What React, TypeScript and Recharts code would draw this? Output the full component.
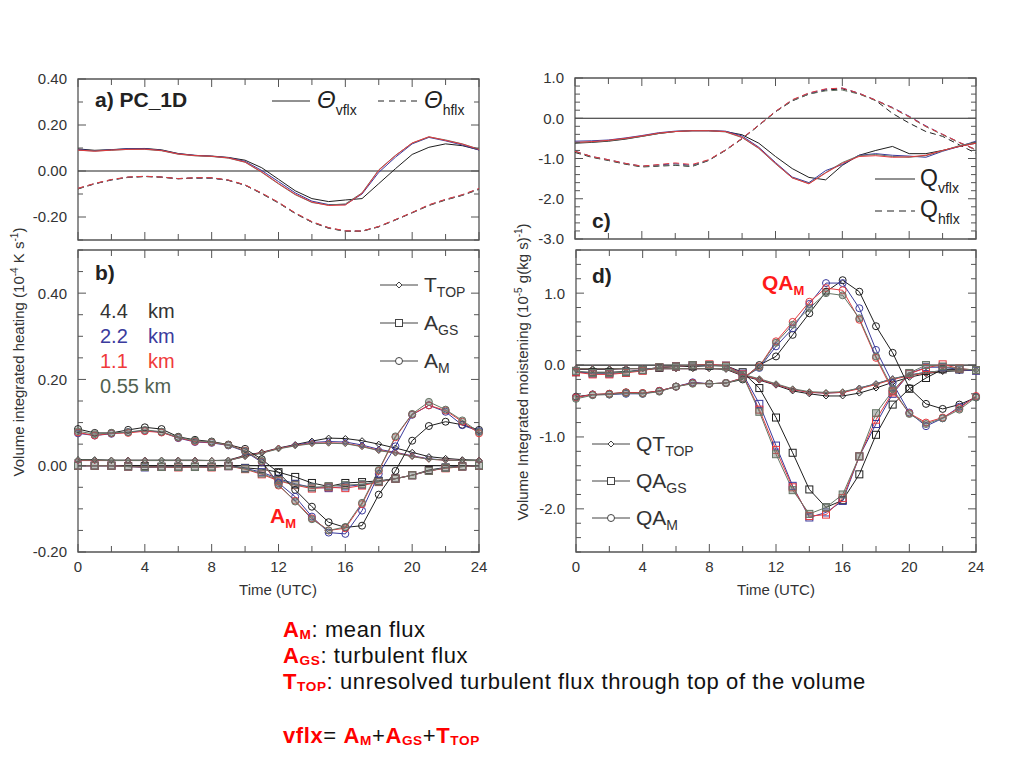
import React from 'react';
import { LineChart, Line, XAxis, YAxis, ReferenceLine, ReferenceArea } from 'recharts';

const HOURS = [0,1,2,3,4,5,6,7,8,9,10,11,12,13,14,15,16,17,18,19,20,21,22,23,24];
const X_TICKS = [0,2,4,6,8,10,12,14,16,18,20,22,24];
const X_LABELS = [0,4,8,12,16,20,24];

const A_Y_TICKS = [-0.3,-0.2,-0.1,0,0.1,0.2,0.3,0.4];
const A_Y_LABELS = [-0.2,0,0.2,0.4];
const B_Y_TICKS = [-0.2,-0.15,-0.1,-0.05,0,0.05,0.1,0.15,0.2,0.25,0.3,0.35,0.4,0.45,0.5];
const B_Y_LABELS = [-0.2,0,0.2,0.4];
const C_Y_TICKS = [-3,-2.8,-2.6,-2.4,-2.2,-2,-1.8,-1.6,-1.4,-1.2,-1,-0.8,-0.6,-0.4,-0.2,0,0.2,0.4,0.6,0.8,1];
const C_Y_LABELS = [-3,-2,-1,0,1];
const D_Y_TICKS = [-2.6,-2.4,-2.2,-2,-1.8,-1.6,-1.4,-1.2,-1,-0.8,-0.6,-0.4,-0.2,0,0.2,0.4,0.6,0.8,1,1.2,1.4,1.6];
const D_Y_LABELS = [-2,-1,0,1];

// Panel a: Theta vflx (solid) and hflx (dashed)
const A_VF_BLACK = [0.096,0.090,0.093,0.097,0.098,0.092,0.076,0.068,0.065,0.059,0.047,0.014,-0.036,-0.086,-0.120,-0.133,-0.126,-0.120,-0.055,0.010,0.072,0.103,0.118,0.110,0.092];
const A_VF_BLUE = [0.093,0.088,0.092,0.097,0.097,0.090,0.075,0.068,0.064,0.058,0.042,0.002,-0.046,-0.095,-0.131,-0.146,-0.146,-0.100,-0.006,0.060,0.118,0.146,0.131,0.113,0.091];
const A_VF_RED = [0.091,0.086,0.091,0.094,0.095,0.089,0.074,0.067,0.064,0.057,0.039,-0.004,-0.054,-0.101,-0.135,-0.150,-0.148,-0.097,0.003,0.067,0.122,0.149,0.133,0.117,0.094];
const A_VF_GRAY = [0.090,0.087,0.090,0.094,0.094,0.088,0.073,0.066,0.063,0.056,0.038,-0.006,-0.056,-0.103,-0.137,-0.148,-0.143,-0.095,0.005,0.068,0.121,0.148,0.135,0.118,0.095];
const A_HF_BLACK = [-0.078,-0.056,-0.039,-0.028,-0.024,-0.027,-0.034,-0.031,-0.031,-0.041,-0.062,-0.099,-0.139,-0.185,-0.223,-0.249,-0.262,-0.262,-0.243,-0.213,-0.182,-0.150,-0.126,-0.106,-0.080];
const A_HF_BLUE = [-0.076,-0.055,-0.038,-0.027,-0.023,-0.026,-0.033,-0.030,-0.030,-0.040,-0.061,-0.097,-0.137,-0.183,-0.221,-0.247,-0.261,-0.261,-0.242,-0.212,-0.181,-0.148,-0.124,-0.104,-0.077];
const A_HF_RED = [-0.075,-0.054,-0.037,-0.026,-0.023,-0.026,-0.033,-0.029,-0.029,-0.039,-0.060,-0.096,-0.136,-0.182,-0.220,-0.246,-0.260,-0.261,-0.241,-0.211,-0.180,-0.147,-0.123,-0.103,-0.076];
const A_HF_GRAY = [-0.077,-0.055,-0.038,-0.027,-0.024,-0.027,-0.033,-0.030,-0.030,-0.040,-0.061,-0.098,-0.138,-0.184,-0.222,-0.248,-0.262,-0.262,-0.242,-0.212,-0.181,-0.149,-0.125,-0.105,-0.078];

// Panel b: A_M (circles), T_TOP (diamonds), A_GS (squares)
const B_AM_BLACK = [0.085,0.076,0.076,0.083,0.089,0.085,0.067,0.060,0.056,0.049,0.039,0.015,-0.016,-0.056,-0.095,-0.131,-0.143,-0.139,-0.067,-0.012,0.058,0.092,0.102,0.095,0.083];
const B_AM_BLUE = [0.075,0.070,0.074,0.078,0.081,0.078,0.064,0.055,0.053,0.047,0.033,0.008,-0.040,-0.072,-0.118,-0.155,-0.158,-0.104,-0.019,0.045,0.118,0.140,0.125,0.094,0.080];
const B_AM_RED = [0.077,0.070,0.075,0.076,0.080,0.077,0.065,0.056,0.054,0.048,0.035,0.010,-0.046,-0.081,-0.122,-0.150,-0.145,-0.089,-0.012,0.066,0.119,0.140,0.128,0.102,0.075];
const B_AM_GRAY = [0.080,0.073,0.076,0.078,0.083,0.079,0.066,0.058,0.055,0.048,0.034,0.011,-0.044,-0.083,-0.124,-0.150,-0.142,-0.086,-0.010,0.068,0.120,0.148,0.130,0.105,0.078];
const B_TT_BLACK = [0.014,0.014,0.013,0.013,0.013,0.013,0.013,0.013,0.012,0.013,0.024,0.031,0.041,0.049,0.057,0.064,0.063,0.058,0.050,0.041,0.031,0.021,0.017,0.014,0.013];
const B_TT_BLUE = [0.012,0.012,0.012,0.012,0.012,0.012,0.012,0.012,0.012,0.012,0.022,0.030,0.040,0.048,0.054,0.056,0.055,0.048,0.038,0.031,0.023,0.016,0.013,0.012,0.012];
const B_TT_RED = [0.012,0.012,0.012,0.012,0.012,0.012,0.012,0.012,0.012,0.012,0.022,0.030,0.040,0.047,0.052,0.053,0.052,0.045,0.036,0.030,0.022,0.015,0.013,0.012,0.012];
const B_TT_GRAY = [0.013,0.013,0.012,0.012,0.012,0.012,0.012,0.012,0.012,0.012,0.021,0.029,0.039,0.046,0.051,0.052,0.051,0.044,0.035,0.029,0.021,0.015,0.013,0.012,0.012];
const B_AG_BLACK = [0.000,0.000,0.000,-0.001,-0.001,-0.002,-0.002,-0.002,-0.002,0.000,-0.005,-0.008,-0.015,-0.026,-0.040,-0.048,-0.040,-0.038,-0.035,-0.030,-0.022,-0.010,-0.004,-0.001,0.000];
const B_AG_BLUE = [0.000,0.000,0.000,-0.002,-0.004,-0.003,-0.003,-0.003,-0.003,-0.001,-0.006,-0.015,-0.030,-0.042,-0.050,-0.052,-0.048,-0.044,-0.037,-0.030,-0.022,-0.012,-0.005,-0.002,0.000];
const B_AG_RED = [0.000,0.000,0.000,-0.002,-0.003,-0.003,-0.004,-0.003,-0.004,-0.001,-0.008,-0.020,-0.035,-0.045,-0.053,-0.050,-0.052,-0.046,-0.038,-0.030,-0.022,-0.012,-0.006,-0.002,0.000];
const B_AG_GRAY = [0.000,0.000,0.000,-0.002,-0.003,-0.003,-0.003,-0.003,-0.003,-0.001,-0.007,-0.018,-0.033,-0.044,-0.050,-0.048,-0.045,-0.043,-0.037,-0.030,-0.022,-0.012,-0.005,-0.002,0.000];

// Panel c: Q vflx (solid) and hflx (dashed)
const C_VF_BLACK = [-0.62,-0.60,-0.57,-0.52,-0.45,-0.38,-0.33,-0.31,-0.31,-0.33,-0.41,-0.62,-0.95,-1.25,-1.47,-1.53,-1.17,-0.92,-0.80,-0.70,-0.88,-0.88,-0.80,-0.70,-0.62];
const C_VF_BLUE = [-0.57,-0.56,-0.54,-0.49,-0.43,-0.36,-0.32,-0.31,-0.31,-0.32,-0.44,-0.72,-1.10,-1.46,-1.60,-1.30,-1.15,-0.92,-0.88,-0.92,-0.94,-0.97,-0.82,-0.70,-0.57];
const C_VF_RED = [-0.60,-0.58,-0.55,-0.50,-0.44,-0.37,-0.33,-0.31,-0.31,-0.33,-0.47,-0.74,-1.12,-1.48,-1.63,-1.36,-1.12,-0.95,-0.93,-0.97,-0.96,-0.92,-0.80,-0.70,-0.62];
const C_VF_GRAY = [-0.61,-0.59,-0.56,-0.51,-0.45,-0.38,-0.33,-0.31,-0.31,-0.34,-0.48,-0.75,-1.13,-1.48,-1.62,-1.35,-1.10,-0.93,-0.90,-0.95,-0.97,-0.93,-0.81,-0.68,-0.60];
const C_HF_BLACK = [-0.85,-0.97,-1.05,-1.14,-1.21,-1.19,-1.17,-1.20,-1.05,-0.80,-0.51,-0.18,0.16,0.43,0.60,0.70,0.73,0.61,0.44,0.12,-0.12,-0.33,-0.45,-0.66,-0.87];
const C_HF_BLUE = [-0.82,-0.95,-1.03,-1.12,-1.19,-1.16,-1.13,-1.17,-1.04,-0.79,-0.50,-0.17,0.17,0.45,0.62,0.72,0.75,0.62,0.45,0.27,0.05,-0.19,-0.40,-0.60,-0.78];
const C_HF_RED = [-0.82,-0.95,-1.03,-1.12,-1.19,-1.15,-1.11,-1.15,-1.03,-0.79,-0.50,-0.17,0.17,0.46,0.63,0.73,0.75,0.62,0.45,0.26,0.04,-0.20,-0.40,-0.60,-0.78];
const C_HF_GRAY = [-0.83,-0.96,-1.04,-1.13,-1.20,-1.18,-1.16,-1.19,-1.04,-0.80,-0.51,-0.18,0.16,0.44,0.60,0.68,0.70,0.60,0.44,0.25,0.03,-0.21,-0.41,-0.61,-0.79];

// Panel d: QA_M (circles), QT_TOP (diamonds), QA_GS (squares)
const D_QM_BLACK = [-0.44,-0.41,-0.40,-0.38,-0.39,-0.36,-0.30,-0.25,-0.26,-0.25,-0.20,0.00,0.12,0.42,0.72,1.02,1.18,1.02,0.54,0.17,-0.32,-0.54,-0.61,-0.55,-0.45];
const D_QM_BLUE = [-0.45,-0.41,-0.41,-0.40,-0.40,-0.36,-0.30,-0.24,-0.26,-0.25,-0.18,-0.04,0.26,0.51,0.85,1.14,1.14,0.79,0.21,-0.25,-0.66,-0.85,-0.74,-0.58,-0.44];
const D_QM_RED = [-0.45,-0.41,-0.40,-0.38,-0.39,-0.36,-0.30,-0.25,-0.26,-0.25,-0.18,-0.02,0.33,0.60,0.88,1.07,1.04,0.63,0.10,-0.36,-0.67,-0.80,-0.73,-0.60,-0.43];
const D_QM_GRAY = [-0.47,-0.42,-0.41,-0.39,-0.40,-0.37,-0.30,-0.26,-0.26,-0.25,-0.19,-0.03,0.31,0.56,0.79,1.00,0.97,0.65,0.12,-0.33,-0.68,-0.82,-0.74,-0.62,-0.45];
const D_QG_BLACK = [-0.10,-0.10,-0.10,-0.09,-0.07,-0.04,-0.02,-0.02,-0.01,-0.01,-0.10,-0.32,-0.73,-1.22,-1.73,-1.98,-1.88,-1.52,-0.97,-0.55,-0.33,-0.18,-0.06,-0.06,-0.07];
const D_QG_BLUE = [-0.09,-0.12,-0.12,-0.10,-0.07,-0.03,-0.02,0.00,0.00,-0.01,-0.12,-0.54,-1.12,-1.68,-2.12,-2.05,-1.89,-1.27,-0.82,-0.40,-0.12,-0.03,-0.03,-0.06,-0.08];
const D_QG_RED = [-0.10,-0.13,-0.13,-0.11,-0.08,-0.03,-0.02,0.00,0.01,-0.01,-0.13,-0.62,-1.18,-1.70,-2.10,-2.08,-1.85,-1.27,-0.76,-0.38,-0.12,-0.04,0.01,-0.05,-0.07];
const D_QG_GRAY = [-0.08,-0.11,-0.11,-0.10,-0.07,-0.03,-0.02,0.00,0.00,-0.02,-0.14,-0.65,-1.24,-1.74,-2.07,-1.98,-1.80,-1.27,-0.67,-0.36,-0.11,0.00,-0.02,-0.05,-0.07];
const D_QT_BLACK = [-0.06,-0.06,-0.06,-0.05,-0.05,-0.05,-0.05,-0.05,-0.05,-0.06,-0.15,-0.21,-0.28,-0.36,-0.40,-0.43,-0.43,-0.39,-0.32,-0.24,-0.17,-0.12,-0.09,-0.08,-0.07];
const D_QT_BLUE = [-0.05,-0.05,-0.05,-0.05,-0.05,-0.05,-0.05,-0.05,-0.05,-0.05,-0.14,-0.20,-0.27,-0.34,-0.38,-0.39,-0.38,-0.32,-0.26,-0.19,-0.14,-0.10,-0.08,-0.07,-0.07];
const D_QT_RED = [-0.05,-0.05,-0.05,-0.05,-0.05,-0.05,-0.05,-0.05,-0.05,-0.05,-0.14,-0.20,-0.27,-0.34,-0.38,-0.39,-0.38,-0.33,-0.27,-0.20,-0.15,-0.11,-0.08,-0.07,-0.07];
const D_QT_GRAY = [-0.05,-0.05,-0.05,-0.05,-0.05,-0.05,-0.05,-0.05,-0.05,-0.05,-0.13,-0.19,-0.26,-0.33,-0.37,-0.38,-0.37,-0.32,-0.26,-0.19,-0.14,-0.10,-0.08,-0.07,-0.07];

const BLACK = '#1e1e1e';
const BLUE = '#3a3a9c';
const RED = '#e4393e';
const GRAY = '#667566';
const AXIS = '#555';
const FONT = '"Liberation Sans", Arial, sans-serif';

type MarkerKind = 'circle' | 'square' | 'diamond';
type Series = { key: string; data: number[]; color: string; dash?: string; marker?: MarkerKind; fill?: string };

function Marker({ cx, cy, kind, color, fill }: { cx: number; cy: number; kind: MarkerKind; color: string; fill?: string }) {
  if (cx == null || cy == null) return null;
  const f = fill || 'none';
  if (kind === 'square') return <rect x={cx - 3.5} y={cy - 3.5} width={7} height={7} fill={f} stroke={color} strokeWidth={1} />;
  if (kind === 'diamond') return <polygon points={`${cx},${cy - 3} ${cx + 3},${cy} ${cx},${cy + 3} ${cx - 3},${cy}`} fill={f} stroke={color} strokeWidth={1} />;
  return <circle cx={cx} cy={cy} r={3.5} fill={f} stroke={color} strokeWidth={1} />;
}

type PanelProps = {
  plotLeft: number; plotTop: number; plotW: number; plotH: number;
  yDomain: [number, number]; yTicks: number[]; yLabels: number[]; yDigits: number;
  showX: boolean; series: Series[];
};

function Panel({ plotLeft, plotTop, plotW, plotH, yDomain, yTicks, yLabels, yDigits, showX, series }: PanelProps) {
  const YW = 70, XH = 34, MT = 12, MR = 16;
  const rows = HOURS.map((h, i) => {
    const r: any = { h };
    series.forEach((s) => { r[s.key] = s.data[i]; });
    return r;
  });
  const isLabelY = (v: number) => yLabels.some((l) => Math.abs(l - v) < 1e-9);
  const YTick = (p: any) => {
    const v = p.payload.value;
    const x0 = p.x;
    const y = p.y;
    const major = isLabelY(v);
    const len = major ? 8 : 5;
    return (
      <g>
        <line x1={x0} x2={x0 + len} y1={y} y2={y} stroke={AXIS} strokeWidth={1} />
        <line x1={x0 + plotW} x2={x0 + plotW - len} y1={y} y2={y} stroke={AXIS} strokeWidth={1} />
        {major && (
          <text x={x0 - 11} y={y} dy="0.36em" textAnchor="end" fontSize={15} fill="#333" fontFamily={FONT}>
            {v.toFixed(yDigits)}
          </text>
        )}
      </g>
    );
  };
  const XTick = (p: any) => {
    const v = p.payload.value;
    const x = p.x;
    const yb = p.y;
    const major = X_LABELS.includes(v);
    const len = major ? 8 : 6;
    return (
      <g>
        <line x1={x} x2={x} y1={yb} y2={yb - len} stroke={AXIS} strokeWidth={1} />
        <line x1={x} x2={x} y1={yb - plotH} y2={yb - plotH + len} stroke={AXIS} strokeWidth={1} />
        {showX && major && (
          <text x={x} y={yb + 20} textAnchor="middle" fontSize={15} fill="#333" fontFamily={FONT}>
            {v}
          </text>
        )}
      </g>
    );
  };
  return (
    <div style={{ position: 'absolute', left: plotLeft - YW, top: plotTop - MT }}>
      <LineChart width={YW + plotW + MR} height={MT + plotH + XH} data={rows} margin={{ top: MT, right: MR, left: 0, bottom: 0 }}>
        <XAxis dataKey="h" type="number" domain={[0, 24]} ticks={X_TICKS} interval={0} height={XH}
          tickSize={0} tickMargin={0} tickLine={false} axisLine={false} tick={<XTick />} />
        <YAxis type="number" domain={yDomain} ticks={yTicks} interval={0} width={YW} allowDataOverflow
          tickSize={0} tickMargin={0} tickLine={false} axisLine={false} tick={<YTick />} />
        <ReferenceArea x1={0} x2={24} y1={yDomain[0]} y2={yDomain[1]} fill="none" stroke={AXIS} strokeWidth={1.3} ifOverflow="visible" />
        <ReferenceLine y={0} stroke="#222" strokeWidth={1.2} />
        {series.map((s) => (
          <Line key={s.key} dataKey={s.key} type="linear" stroke={s.color} strokeWidth={1}
            strokeDasharray={s.dash} isAnimationActive={false}
            dot={s.marker ? (dp: any) => (
              <Marker key={`${s.key}-${dp.index}`} cx={dp.cx} cy={dp.cy} kind={s.marker as MarkerKind} color={s.color} fill={s.fill} />
            ) : false}
            activeDot={false} />
        ))}
      </LineChart>
    </div>
  );
}

const GF = 'rgba(110,120,110,0.45)';

const seriesA: Series[] = [
  { key: 'hfK', data: A_HF_BLACK, color: BLACK, dash: '6 4' },
  { key: 'hfB', data: A_HF_BLUE, color: BLUE, dash: '6 4' },
  { key: 'hfG', data: A_HF_GRAY, color: GRAY, dash: '6 4' },
  { key: 'hfR', data: A_HF_RED, color: RED, dash: '6 4' },
  { key: 'vfK', data: A_VF_BLACK, color: BLACK },
  { key: 'vfB', data: A_VF_BLUE, color: BLUE },
  { key: 'vfG', data: A_VF_GRAY, color: GRAY },
  { key: 'vfR', data: A_VF_RED, color: RED },
];
const seriesB: Series[] = [
  { key: 'agK', data: B_AG_BLACK, color: BLACK, marker: 'square' },
  { key: 'agB', data: B_AG_BLUE, color: BLUE, marker: 'square' },
  { key: 'agR', data: B_AG_RED, color: RED, marker: 'square' },
  { key: 'agG', data: B_AG_GRAY, color: GRAY, marker: 'square', fill: GF },
  { key: 'ttK', data: B_TT_BLACK, color: BLACK, marker: 'diamond' },
  { key: 'ttB', data: B_TT_BLUE, color: BLUE, marker: 'diamond' },
  { key: 'ttR', data: B_TT_RED, color: RED, marker: 'diamond' },
  { key: 'ttG', data: B_TT_GRAY, color: GRAY, marker: 'diamond', fill: GF },
  { key: 'amK', data: B_AM_BLACK, color: BLACK, marker: 'circle' },
  { key: 'amB', data: B_AM_BLUE, color: BLUE, marker: 'circle' },
  { key: 'amR', data: B_AM_RED, color: RED, marker: 'circle' },
  { key: 'amG', data: B_AM_GRAY, color: GRAY, marker: 'circle', fill: GF },
];
const seriesC: Series[] = [
  { key: 'hfK', data: C_HF_BLACK, color: BLACK, dash: '6 4' },
  { key: 'hfB', data: C_HF_BLUE, color: BLUE, dash: '6 4' },
  { key: 'hfG', data: C_HF_GRAY, color: GRAY, dash: '6 4' },
  { key: 'hfR', data: C_HF_RED, color: RED, dash: '6 4' },
  { key: 'vfK', data: C_VF_BLACK, color: BLACK },
  { key: 'vfB', data: C_VF_BLUE, color: BLUE },
  { key: 'vfG', data: C_VF_GRAY, color: GRAY },
  { key: 'vfR', data: C_VF_RED, color: RED },
];
const seriesD: Series[] = [
  { key: 'qtK', data: D_QT_BLACK, color: BLACK, marker: 'diamond' },
  { key: 'qtB', data: D_QT_BLUE, color: BLUE, marker: 'diamond' },
  { key: 'qtR', data: D_QT_RED, color: RED, marker: 'diamond' },
  { key: 'qtG', data: D_QT_GRAY, color: GRAY, marker: 'diamond', fill: GF },
  { key: 'qgK', data: D_QG_BLACK, color: BLACK, marker: 'square' },
  { key: 'qgB', data: D_QG_BLUE, color: BLUE, marker: 'square' },
  { key: 'qgR', data: D_QG_RED, color: RED, marker: 'square' },
  { key: 'qgG', data: D_QG_GRAY, color: GRAY, marker: 'square', fill: GF },
  { key: 'qmK', data: D_QM_BLACK, color: BLACK, marker: 'circle' },
  { key: 'qmB', data: D_QM_BLUE, color: BLUE, marker: 'circle' },
  { key: 'qmR', data: D_QM_RED, color: RED, marker: 'circle' },
  { key: 'qmG', data: D_QM_GRAY, color: GRAY, marker: 'circle', fill: GF },
];

const abs = (left: number, top: number, extra: React.CSSProperties = {}): React.CSSProperties => ({
  position: 'absolute', left, top, whiteSpace: 'nowrap', fontFamily: FONT, lineHeight: 1, ...extra,
});

function LegendMark({ left, top, kind, label, sub }: { left: number; top: number; kind: MarkerKind; label: string; sub: string }) {
  return (
    <>
      <svg style={{ position: 'absolute', left, top: top - 6 }} width={40} height={12}>
        <line x1={0} x2={38} y1={6} y2={6} stroke="#444" strokeWidth={1} />
        <Marker cx={19} cy={6} kind={kind} color="#444" fill="#fff" />
      </svg>
      <div style={abs(left + 44, top - 11, { fontSize: 21, color: '#333' })}>
        {label}<span style={{ fontSize: 14, position: 'relative', top: 5 }}>{sub}</span>
      </div>
    </>
  );
}

function RedSub({ main, sub, size, shift = 0.22 }: { main: string; sub: string; size: number; shift?: number }) {
  return (
    <span>{main}<span style={{ fontSize: size * 0.62, position: 'relative', top: size * shift }}>{sub}</span></span>
  );
}

export default function App() {
  const BFS = 22;
  const BT = { position: 'absolute' as const, left: 283, fontFamily: FONT, fontSize: BFS, letterSpacing: 0.6, color: '#111', whiteSpace: 'nowrap' as const, lineHeight: 1 };
  const R = { color: '#ff0000', fontWeight: 700 };
  const SH = 0.11;
  return (
    <div style={{ position: 'absolute', left: 0, top: 0, width: 1024, height: 768, background: '#fff', overflow: 'hidden' }}>
      <Panel plotLeft={78} plotTop={79} plotW={401} plotH={161} yDomain={[-0.3, 0.4]} yTicks={A_Y_TICKS} yLabels={A_Y_LABELS} yDigits={2} showX={false} series={seriesA} />
      <Panel plotLeft={78} plotTop={250} plotW={401} plotH={302} yDomain={[-0.2, 0.5]} yTicks={B_Y_TICKS} yLabels={B_Y_LABELS} yDigits={2} showX={true} series={seriesB} />
      <Panel plotLeft={575} plotTop={78} plotW={401} plotH={161} yDomain={[-3, 1]} yTicks={C_Y_TICKS} yLabels={C_Y_LABELS} yDigits={1} showX={false} series={seriesC} />
      <Panel plotLeft={576} plotTop={250} plotW={400} plotH={302} yDomain={[-2.6, 1.6]} yTicks={D_Y_TICKS} yLabels={D_Y_LABELS} yDigits={1} showX={true} series={seriesD} />

      {/* Panel a texts */}
      <div style={abs(95, 89, { fontSize: 21, fontWeight: 700, color: '#222' })}>a) PC_1D</div>
      <svg style={{ position: 'absolute', left: 270, top: 95 }} width={160} height={12}>
        <line x1={2} x2={40} y1={6} y2={6} stroke="#222" strokeWidth={1} />
        <line x1={108} x2={148} y1={6} y2={6} stroke="#222" strokeWidth={1} strokeDasharray="6 5" />
      </svg>
      <div style={abs(317, 88, { fontSize: 24, fontStyle: 'italic', color: '#222' })}>
        Θ<span style={{ fontSize: 14, fontStyle: 'normal', position: 'relative', top: 7 }}>vflx</span>
      </div>
      <div style={abs(424, 88, { fontSize: 24, fontStyle: 'italic', color: '#222' })}>
        Θ<span style={{ fontSize: 14, fontStyle: 'normal', position: 'relative', top: 7 }}>hflx</span>
      </div>

      {/* Panel c texts */}
      <div style={abs(592, 210, { fontSize: 21, fontWeight: 700, color: '#222' })}>c)</div>
      <svg style={{ position: 'absolute', left: 873, top: 173 }} width={45} height={45}>
        <line x1={2} x2={42} y1={6} y2={6} stroke="#222" strokeWidth={1} />
        <line x1={2} x2={42} y1={38} y2={38} stroke="#222" strokeWidth={1} strokeDasharray="7 5" />
      </svg>
      <div style={abs(920, 167, { fontSize: 23, color: '#222' })}>
        Q<span style={{ fontSize: 14, position: 'relative', top: 7 }}>vflx</span>
      </div>
      <div style={abs(920, 198, { fontSize: 23, color: '#222' })}>
        Q<span style={{ fontSize: 14, position: 'relative', top: 7 }}>hflx</span>
      </div>

      {/* Panel b texts */}
      <div style={abs(95, 262, { fontSize: 21, fontWeight: 700, color: '#222' })}>b)</div>
      <div style={abs(100, 301, { fontSize: 20, color: '#333' })}>4.4</div>
      <div style={abs(148, 301, { fontSize: 20, color: '#333' })}>km</div>
      <div style={abs(100, 326, { fontSize: 20, color: '#3b3b9d' })}>2.2</div>
      <div style={abs(148, 326, { fontSize: 20, color: '#3b3b9d' })}>km</div>
      <div style={abs(100, 351, { fontSize: 20, color: '#ef3a3a' })}>1.1</div>
      <div style={abs(148, 351, { fontSize: 20, color: '#ef3a3a' })}>km</div>
      <div style={abs(100, 376, { fontSize: 20, color: '#52614f' })}>0.55 km</div>
      <LegendMark left={380} top={285} kind="diamond" label="T" sub="TOP" />
      <LegendMark left={380} top={323} kind="square" label="A" sub="GS" />
      <LegendMark left={380} top={361} kind="circle" label="A" sub="M" />
      <div style={abs(270, 505, { fontSize: 21, fontWeight: 700, color: '#ff1a1a' })}><RedSub main="A" sub="M" size={21} /></div>

      {/* Panel d texts */}
      <div style={abs(592, 265, { fontSize: 21, fontWeight: 700, color: '#222' })}>d)</div>
      <div style={abs(762, 272, { fontSize: 21, fontWeight: 700, color: '#ff1a1a' })}><RedSub main="QA" sub="M" size={21} /></div>
      <LegendMark left={592} top={444} kind="diamond" label="QT" sub="TOP" />
      <LegendMark left={592} top={481} kind="square" label="QA" sub="GS" />
      <LegendMark left={592} top={518} kind="circle" label="QA" sub="M" />

      {/* Axis titles */}
      <div style={abs(18, 352, { fontSize: 15, color: '#333', transform: 'translate(-50%,-50%) rotate(-90deg)' })}>
        Volume integrated heating (10<sup style={{ fontSize: 10 }}>-4</sup> K s<sup style={{ fontSize: 10 }}>-1</sup>)
      </div>
      <div style={abs(522, 372, { fontSize: 15, color: '#333', transform: 'translate(-50%,-50%) rotate(-90deg)' })}>
        Volume Integrated moistening (10<sup style={{ fontSize: 10 }}>-5</sup> g(kg s)<sup style={{ fontSize: 10 }}>-1</sup>)
      </div>
      <div style={abs(278, 589, { fontSize: 15, color: '#333', transform: 'translate(-50%,-50%)' })}>Time (UTC)</div>
      <div style={abs(776, 589, { fontSize: 15, color: '#333', transform: 'translate(-50%,-50%)' })}>Time (UTC)</div>

      {/* Bottom notes */}
      <div style={{ ...BT, top: 619 }}><span style={R}><RedSub main="A" sub="M" size={BFS} shift={SH} /></span>: mean flux</div>
      <div style={{ ...BT, top: 645 }}><span style={R}><RedSub main="A" sub="GS" size={BFS} shift={SH} /></span>: turbulent flux</div>
      <div style={{ ...BT, top: 671 }}><span style={R}><RedSub main="T" sub="TOP" size={BFS} shift={SH} /></span>: unresolved turbulent flux through top of the volume</div>
      <div style={{ ...BT, top: 725 }}>
        <span style={R}>vflx</span>= <span style={R}><RedSub main="A" sub="M" size={BFS} shift={SH} /></span>+<span style={R}><RedSub main="A" sub="GS" size={BFS} shift={SH} /></span>+<span style={R}><RedSub main="T" sub="TOP" size={BFS} shift={SH} /></span>
      </div>
    </div>
  );
}
